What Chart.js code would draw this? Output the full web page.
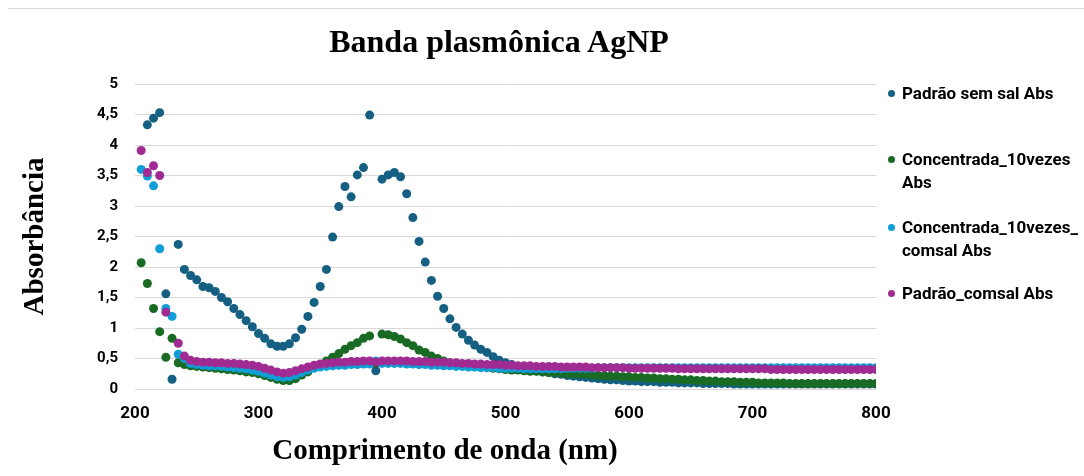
<!DOCTYPE html>
<html>
<head>
<meta charset="utf-8">
<script src="https://cdn.jsdelivr.net/npm/chart.js@4.4.1/dist/chart.umd.min.js"></script>
<style>
  body { margin: 0; background: #fff; }
  #wrap { position: relative; width: 1084px; height: 476px; background: #fff; overflow: hidden; }
  #frame { position: absolute; left: 8px; right: 0; top: 8px; height: 1px; background: #d9d9d9; }
  #chart { position: absolute; left: 0; top: 0; }
  .serif { position: absolute; font-family: "Liberation Serif", "Times New Roman", serif; font-weight: bold; color: #000; white-space: nowrap; transform: translateX(-50%); }
  #title { left: 499px; top: 25px; font-size: 32px; line-height: 32px; }
  #xtitle { left: 445px; top: 435px; font-size: 29px; line-height: 29px; }
  .item { position: absolute; left: 902px; font: bold 17px Roboto, sans-serif; line-height: 23px; color: #000; white-space: nowrap; }
  .dot { position: absolute; left: -14px; top: 8px; width: 7px; height: 7px; border-radius: 50%; }
</style>
</head>
<body>
<div id="wrap">
  <div id="frame"></div>
  <canvas id="chart" width="1084" height="476"></canvas>
  <div id="title" class="serif">Banda plasmônica AgNP</div>
  <div id="xtitle" class="serif">Comprimento de onda (nm)</div>
  <div id="legend"></div>
</div>
<script>
// wavelength (nm)
const wavelengths = [
  205, 210, 215, 220, 225, 230, 235, 240, 245, 250,
  255, 260, 265, 270, 275, 280, 285, 290, 295, 300,
  305, 310, 315, 320, 325, 330, 335, 340, 345, 350,
  355, 360, 365, 370, 375, 380, 385, 390, 395, 400,
  405, 410, 415, 420, 425, 430, 435, 440, 445, 450,
  455, 460, 465, 470, 475, 480, 485, 490, 495, 500,
  505, 510, 515, 520, 525, 530, 535, 540, 545, 550,
  555, 560, 565, 570, 575, 580, 585, 590, 595, 600,
  605, 610, 615, 620, 625, 630, 635, 640, 645, 650,
  655, 660, 665, 670, 675, 680, 685, 690, 695, 700,
  705, 710, 715, 720, 725, 730, 735, 740, 745, 750,
  755, 760, 765, 770, 775, 780, 785, 790, 795, 800
];

const padraoSemSal = [
  null, 4.33, 4.44, 4.53, 1.56, 0.16, 2.37, 1.96, 1.86, 1.79,
  1.68, 1.66, 1.60, 1.50, 1.43, 1.32, 1.22, 1.12, 1.02, 0.91,
  0.83, 0.74, 0.70, 0.70, 0.74, 0.84, 0.98, 1.19, 1.42, 1.68,
  1.96, 2.49, 2.99, 3.32, 3.15, 3.51, 3.63, 4.49, 0.30, 3.44,
  3.51, 3.55, 3.48, 3.20, 2.81, 2.42, 2.08, 1.78, 1.52, 1.32,
  1.15, 1.01, 0.90, 0.80, 0.72, 0.65, 0.60, 0.53, 0.47, 0.43,
  0.40, 0.37, 0.34, 0.32, 0.30, 0.28, 0.27, 0.25, 0.24, 0.22,
  0.21, 0.20, 0.19, 0.18, 0.17, 0.16, 0.15, 0.15, 0.14, 0.13,
  0.13, 0.12, 0.12, 0.12, 0.11, 0.11, 0.11, 0.10, 0.10, 0.10,
  0.10, 0.09, 0.09, 0.09, 0.09, 0.09, 0.08, 0.08, 0.08, 0.08,
  0.08, 0.08, 0.08, 0.08, 0.08, 0.08, 0.08, 0.08, 0.08, 0.08,
  0.08, 0.08, 0.08, 0.08, 0.08, 0.08, 0.08, 0.08, 0.08, 0.08
];

const concentrada10x = [
  2.07, 1.73, 1.32, 0.94, 0.52, 0.83, 0.43, 0.40, 0.38, 0.37,
  0.36, 0.35, 0.34, 0.33, 0.32, 0.31, 0.30, 0.28, 0.27, 0.25,
  0.22, 0.19, 0.16, 0.14, 0.14, 0.17, 0.23, 0.28, 0.35, 0.40,
  0.46, 0.52, 0.58, 0.65, 0.71, 0.76, 0.83, 0.87, 0.42, 0.90,
  0.89, 0.86, 0.82, 0.76, 0.71, 0.64, 0.60, 0.54, 0.50, 0.46,
  0.43, 0.41, 0.39, 0.38, 0.37, 0.36, 0.35, 0.34, 0.33, 0.32,
  0.31, 0.31, 0.30, 0.29, 0.29, 0.28, 0.27, 0.27, 0.26, 0.25,
  0.25, 0.24, 0.24, 0.23, 0.22, 0.22, 0.21, 0.21, 0.20, 0.20,
  0.19, 0.19, 0.18, 0.18, 0.17, 0.17, 0.16, 0.16, 0.15, 0.15,
  0.14, 0.14, 0.13, 0.13, 0.12, 0.12, 0.12, 0.11, 0.11, 0.11,
  0.10, 0.10, 0.10, 0.10, 0.10, 0.09, 0.09, 0.09, 0.09, 0.09,
  0.09, 0.09, 0.09, 0.09, 0.09, 0.09, 0.09, 0.09, 0.09, 0.09
];

const concentrada10xComsal = [
  3.60, 3.49, 3.33, 2.30, 1.32, 1.19, 0.57, 0.50, 0.42, 0.40,
  0.39, 0.38, 0.38, 0.37, 0.36, 0.35, 0.34, 0.33, 0.31, 0.29,
  0.26, 0.23, 0.20, 0.19, 0.20, 0.23, 0.27, 0.31, 0.34, 0.36,
  0.37, 0.38, 0.39, 0.39, 0.40, 0.40, 0.41, 0.41, 0.46, 0.42,
  0.42, 0.42, 0.42, 0.41, 0.41, 0.40, 0.40, 0.39, 0.39, 0.38,
  0.38, 0.37, 0.37, 0.36, 0.36, 0.35, 0.35, 0.35, 0.34, 0.34,
  0.34, 0.34, 0.33, 0.33, 0.33, 0.33, 0.33, 0.33, 0.33, 0.34,
  0.34, 0.34, 0.34, 0.34, 0.35, 0.35, 0.35, 0.35, 0.35, 0.35,
  0.35, 0.35, 0.35, 0.35, 0.35, 0.35, 0.35, 0.35, 0.35, 0.35,
  0.35, 0.35, 0.35, 0.35, 0.35, 0.35, 0.35, 0.35, 0.35, 0.35,
  0.35, 0.35, 0.35, 0.35, 0.35, 0.35, 0.35, 0.35, 0.35, 0.35,
  0.35, 0.35, 0.35, 0.35, 0.35, 0.35, 0.35, 0.35, 0.35, 0.35
];

const padraoComsal = [
  3.91, 3.55, 3.66, 3.50, 1.26, null, 0.75, 0.54, 0.47, 0.45,
  0.44, 0.44, 0.43, 0.43, 0.42, 0.42, 0.41, 0.40, 0.39, 0.37,
  0.34, 0.31, 0.28, 0.26, 0.27, 0.30, 0.33, 0.36, 0.39, 0.41,
  0.42, 0.43, 0.44, 0.44, 0.45, 0.45, 0.46, 0.46, 0.44, 0.46,
  0.46, 0.46, 0.46, 0.46, 0.45, 0.45, 0.45, 0.44, 0.44, 0.44,
  0.43, 0.43, 0.42, 0.42, 0.41, 0.41, 0.40, 0.40, 0.40, 0.39,
  0.39, 0.38, 0.38, 0.38, 0.37, 0.37, 0.37, 0.37, 0.36, 0.36,
  0.36, 0.36, 0.36, 0.35, 0.35, 0.35, 0.35, 0.35, 0.35, 0.34,
  0.34, 0.34, 0.34, 0.34, 0.34, 0.34, 0.34, 0.33, 0.33, 0.33,
  0.33, 0.33, 0.33, 0.33, 0.33, 0.33, 0.33, 0.33, 0.33, 0.33,
  0.33, 0.33, 0.32, 0.32, 0.32, 0.32, 0.32, 0.32, 0.32, 0.32,
  0.32, 0.32, 0.32, 0.32, 0.32, 0.32, 0.32, 0.32, 0.32, 0.32
];

const seriesNames = ['Padrão sem sal Abs', 'Concentrada_10vezes Abs', 'Concentrada_10vezes_comsal Abs', 'Padrão_comsal Abs'];
// how the legend wraps the names
const legendLines = [['Padrão sem sal Abs'], ['Concentrada_10vezes', 'Abs'], ['Concentrada_10vezes_', 'comsal Abs'], ['Padrão_comsal Abs']];
const legendTops = [82, 148, 216, 282];
const seriesColors = ['#156082', '#196B24', '#0F9ED5', '#A02B93'];
const seriesValues = [padraoSemSal, concentrada10x, concentrada10xComsal, padraoComsal];

const datasets = seriesValues.map((vals, i) => ({
  label: seriesNames[i],
  data: wavelengths.map((w, j) => ({ x: w, y: vals[j] })),
  backgroundColor: seriesColors[i],
  borderColor: seriesColors[i],
  borderWidth: 0,
  pointRadius: 4.5,
  pointHoverRadius: 4.5,
  order: 3 - i
}));

const tickFont = { family: 'Roboto', weight: 'bold' };

new Chart(document.getElementById('chart').getContext('2d'), {
  type: 'scatter',
  data: { datasets: datasets },
  options: {
    responsive: false,
    animation: false,
    layout: { padding: { left: 0, right: 208, top: 84, bottom: 0 } },
    plugins: {
      legend: { display: false },
      title: { display: false },
      tooltip: { enabled: false }
    },
    scales: {
      x: {
        type: 'linear',
        min: 200,
        max: 800,
        ticks: { stepSize: 100, padding: 15, color: '#000', font: { ...tickFont, size: 17 } },
        grid: { display: false, drawTicks: false },
        border: { display: false },
        afterFit: (s) => { s.height = 87; }
      },
      y: {
        min: 0,
        max: 5,
        ticks: {
          stepSize: 0.5,
          padding: 17,
          color: '#000',
          font: { ...tickFont, size: 15 },
          callback: (v) => String(v).replace('.', ',')
        },
        grid: { color: '#d9d9d9', drawTicks: false },
        border: { display: false },
        title: {
          display: true,
          text: 'Absorbância',
          color: '#000',
          font: { family: '"Liberation Serif", "Times New Roman", serif', weight: 'bold', size: 29 },
          padding: { top: 18, bottom: 0 }
        },
        afterFit: (s) => { s.width = 135; }
      }
    }
  }
});

// legend
const legend = document.getElementById('legend');
legendLines.forEach((lines, i) => {
  const item = document.createElement('div');
  item.className = 'item';
  item.style.top = legendTops[i] + 'px';
  const dot = document.createElement('span');
  dot.className = 'dot';
  dot.style.background = seriesColors[i];
  item.appendChild(dot);
  lines.forEach((t, k) => {
    if (k > 0) item.appendChild(document.createElement('br'));
    item.appendChild(document.createTextNode(t));
  });
  legend.appendChild(item);
});
</script>
</body>
</html>
